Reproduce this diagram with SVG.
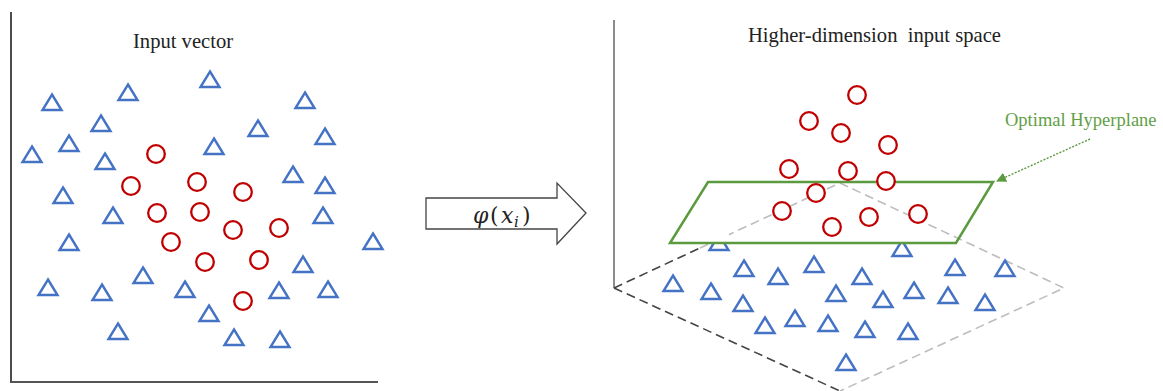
<svg xmlns="http://www.w3.org/2000/svg" xmlns:xlink="http://www.w3.org/1999/xlink" width="1163" height="391" viewBox="0 0 1163 391">
<style>
.tri{fill:none;stroke:#4472C4;stroke-width:2.4;stroke-linejoin:miter}
.cir{fill:#fff;stroke:#C00000;stroke-width:2.3}
.title{font-family:"Liberation Serif","Times New Roman",serif;font-size:20.6px;fill:#222}
.dashdark{fill:none;stroke:#444;stroke-width:1.6;stroke-dasharray:9 5}
.dashlight{fill:none;stroke:#BDBDBD;stroke-width:1.6;stroke-dasharray:9 5}
.green{fill:none;stroke:#5B9A3E;stroke-width:2.5;stroke-linejoin:miter}
.math{font-family:"DejaVu Serif","Liberation Serif",serif;font-size:22px;fill:#222}
</style>
<defs>
<path id="tri" class="tri" d="M0,-7.5 L9.5,8 L-9.5,8 Z"/>
<circle id="cir" class="cir" r="8.8"/>
<marker id="ah" markerWidth="10" markerHeight="10" refX="9" refY="5" orient="auto" markerUnits="userSpaceOnUse">
<path d="M0,0 L10,5 L0,10 Z" fill="#5B9A3E"/>
</marker>
</defs>
<rect width="1163" height="391" fill="#fff"/>

<g id="left-panel">
<line x1="11" y1="12" x2="11" y2="383" stroke="#111" stroke-width="1.5"/>
<line x1="11" y1="382" x2="378" y2="382" stroke="#555" stroke-width="2"/>
<text class="title" x="133" y="48">Input vector</text>
<g id="left-triangles">
<use href="#tri" x="52" y="102"/>
<use href="#tri" x="128" y="92"/>
<use href="#tri" x="210" y="79"/>
<use href="#tri" x="305" y="100"/>
<use href="#tri" x="101" y="123"/>
<use href="#tri" x="69" y="143"/>
<use href="#tri" x="32" y="154"/>
<use href="#tri" x="105" y="161"/>
<use href="#tri" x="214" y="146"/>
<use href="#tri" x="258" y="128"/>
<use href="#tri" x="325" y="136"/>
<use href="#tri" x="293" y="174"/>
<use href="#tri" x="325" y="185"/>
<use href="#tri" x="63" y="195"/>
<use href="#tri" x="113" y="215"/>
<use href="#tri" x="323" y="215"/>
<use href="#tri" x="69" y="242"/>
<use href="#tri" x="373" y="241"/>
<use href="#tri" x="303" y="264"/>
<use href="#tri" x="143" y="275"/>
<use href="#tri" x="48" y="287"/>
<use href="#tri" x="102" y="292"/>
<use href="#tri" x="185" y="289"/>
<use href="#tri" x="279" y="290"/>
<use href="#tri" x="328" y="289"/>
<use href="#tri" x="209" y="313"/>
<use href="#tri" x="118" y="331"/>
<use href="#tri" x="234" y="337"/>
<use href="#tri" x="280" y="339"/>
</g>
<g id="left-circles">
<use href="#cir" x="156" y="154"/>
<use href="#cir" x="131" y="186"/>
<use href="#cir" x="197" y="182"/>
<use href="#cir" x="243" y="192"/>
<use href="#cir" x="157" y="213"/>
<use href="#cir" x="200" y="212"/>
<use href="#cir" x="233" y="230"/>
<use href="#cir" x="279" y="228"/>
<use href="#cir" x="171" y="242"/>
<use href="#cir" x="205" y="262"/>
<use href="#cir" x="259" y="260"/>
<use href="#cir" x="243" y="301"/>
</g>
</g>

<g id="mapping-arrow">
<polygon points="426,198 557,198 557,183 586,213 557,244 557,229 426,229" fill="#fff" stroke="#444" stroke-width="1.3"/>
<text class="math" y="223"><tspan x="473" font-style="italic">φ</tspan><tspan x="490">(</tspan><tspan x="501" font-style="italic">x</tspan><tspan x="514" font-style="italic" font-size="15" dy="4">i</tspan><tspan x="522" dy="-4">)</tspan></text>
</g>

<g id="right-panel">
<line x1="614" y1="20" x2="614" y2="288" stroke="#666" stroke-width="1.5"/>
<text class="title" x="748" y="42" style="white-space:pre">Higher-dimension  input space</text>
<g id="input-plane">
<path class="dashdark" d="M614,288 L840,391"/>
<path class="dashdark" d="M614,288 L700,248"/>
<path class="dashlight" d="M700,248 L840,183 L1064,288 L840,391"/>
</g>
<g id="right-triangles">
<use href="#tri" x="719" y="242"/>
<use href="#tri" x="902" y="248"/>
<use href="#tri" x="744" y="268"/>
<use href="#tri" x="778" y="276"/>
<use href="#tri" x="814" y="264"/>
<use href="#tri" x="862" y="276"/>
<use href="#tri" x="673" y="283"/>
<use href="#tri" x="711" y="291"/>
<use href="#tri" x="743" y="303"/>
<use href="#tri" x="836" y="293"/>
<use href="#tri" x="883" y="299"/>
<use href="#tri" x="765" y="325"/>
<use href="#tri" x="795" y="318"/>
<use href="#tri" x="828" y="323"/>
<use href="#tri" x="865" y="329"/>
<use href="#tri" x="846" y="362"/>
<use href="#tri" x="955" y="267"/>
<use href="#tri" x="1005" y="268"/>
<use href="#tri" x="914" y="290"/>
<use href="#tri" x="948" y="295"/>
<use href="#tri" x="985" y="302"/>
<use href="#tri" x="908" y="331"/>
</g>
<rect x="709" y="226" width="20" height="17" fill="#fff"/>
<rect x="892" y="232" width="20" height="11" fill="#fff"/>
<g id="hyperplane">
<polygon class="green" points="708,182 993,182 956,243 670,243"/>
</g>
<g id="right-circles">
<use href="#cir" x="857" y="95"/>
<use href="#cir" x="809" y="121"/>
<use href="#cir" x="841" y="133"/>
<use href="#cir" x="888" y="145"/>
<use href="#cir" x="789" y="169"/>
<use href="#cir" x="848" y="171"/>
<use href="#cir" x="886" y="181"/>
<use href="#cir" x="816" y="193"/>
<use href="#cir" x="782" y="211"/>
<use href="#cir" x="832" y="227"/>
<use href="#cir" x="869" y="217"/>
<use href="#cir" x="918" y="214"/>
</g>
</g>

<g id="connectors">
<line x1="1090" y1="139" x2="997" y2="181" stroke="#5B9A3E" stroke-width="1.4" stroke-dasharray="2 1.5" marker-end="url(#ah)"/>
</g>
<g id="label-optimal">
<text x="1005" y="126" font-family="'Liberation Serif','Times New Roman',serif" font-size="18.5" fill="#62A046">Optimal Hyperplane</text>
</g>
</svg>
